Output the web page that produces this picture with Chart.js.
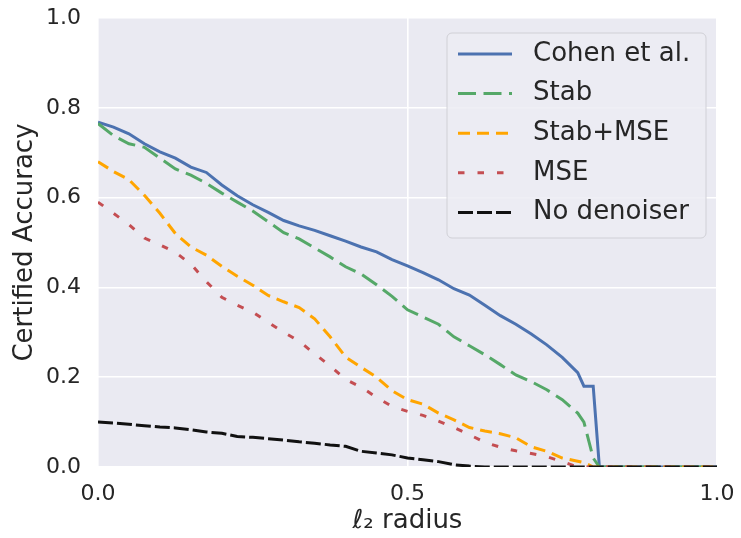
<!DOCTYPE html>
<html>
<head>
<meta charset="utf-8">
<title>Certified accuracy vs l2 radius</title>
<script src="https://cdn.jsdelivr.net/npm/chart.js@4.4.1/dist/chart.umd.min.js"></script>
<style>
    html, body { margin: 0; padding: 0; background: #ffffff; }
    #wrap { width: 741px; height: 538px; }
</style>
</head>
<body>
<div id="wrap"><canvas id="accChart" width="741" height="538"></canvas></div>
<script>
const radii = [
    0, 0.025, 0.05, 0.075, 0.1, 0.125, 0.15, 0.175, 0.2, 0.225,
    0.25, 0.275, 0.3, 0.325, 0.35, 0.375, 0.4, 0.425, 0.45, 0.475,
    0.5, 0.525, 0.55, 0.575, 0.6, 0.625, 0.65, 0.675, 0.7, 0.725,
    0.75, 0.775, 0.785, 0.8, 0.81, 0.9, 1.0
];

const cohenAcc = [
    0.768, 0.757, 0.742, 0.720, 0.702, 0.688, 0.668, 0.656, 0.628, 0.604,
    0.584, 0.567, 0.549, 0.537, 0.527, 0.515, 0.503, 0.490, 0.479, 0.462,
    0.448, 0.433, 0.417, 0.397, 0.383, 0.360, 0.337, 0.318, 0.296, 0.272,
    0.244, 0.210, 0.180, 0.180, 0, 0, 0
];

const stabAcc = [
    0.765, 0.738, 0.720, 0.712, 0.688, 0.664, 0.650, 0.632, 0.610, 0.590,
    0.570, 0.546, 0.522, 0.508, 0.488, 0.468, 0.446, 0.430, 0.406, 0.380,
    0.350, 0.334, 0.318, 0.290, 0.270, 0.250, 0.228, 0.205, 0.190, 0.172,
    0.150, 0.120, 0.100, 0.020, 0, 0, 0
];

const stabMseAcc = [
    0.680, 0.658, 0.640, 0.605, 0.565, 0.520, 0.490, 0.472, 0.447, 0.425,
    0.405, 0.382, 0.368, 0.355, 0.330, 0.290, 0.245, 0.222, 0.200, 0.170,
    0.150, 0.140, 0.120, 0.105, 0.088, 0.080, 0.074, 0.065, 0.045, 0.035,
    0.020, 0.013, 0.010, 0, 0, 0, 0
];

const mseAcc = [
    0.590, 0.565, 0.540, 0.510, 0.495, 0.478, 0.452, 0.413, 0.378, 0.360,
    0.345, 0.322, 0.300, 0.280, 0.252, 0.225, 0.195, 0.178, 0.155, 0.135,
    0.124, 0.115, 0.102, 0.088, 0.072, 0.055, 0.044, 0.036, 0.030, 0.023,
    0.012, 0, 0, 0, 0, 0, 0
];

const noDenoiserAcc = [
    0.100, 0.098, 0.095, 0.092, 0.089, 0.087, 0.083, 0.078, 0.075, 0.068,
    0.066, 0.063, 0.060, 0.056, 0.053, 0.049, 0.046, 0.035, 0.031, 0.027,
    0.020, 0.016, 0.012, 0.005, 0.002, 0, 0, 0, 0, 0,
    0, 0, 0, 0, 0, 0, 0
];

const xTicks = [0, 0.5, 1.0];
const yTicks = [0, 0.2, 0.4, 0.6, 0.8, 1.0];

const seriesNames = ["Cohen et al.", "Stab", "Stab+MSE", "MSE", "No denoiser"];
const seriesValues = [cohenAcc, stabAcc, stabMseAcc, mseAcc, noDenoiserAcc];
const seriesColors = ["#4c72b0", "#55a868", "#ffa500", "#c44e52", "#111111"];
const seriesDashes = [[], [18, 7.5], [12, 7], [6.5, 13], [15, 4]];

const textColor = "#262626";
const fontFamily = "'DejaVu Sans', sans-serif";

const plotBackground = {
    id: "plotBackground",
    beforeDraw(chart) {
        const { ctx, chartArea } = chart;
        ctx.save();
        ctx.fillStyle = "#eaeaf2";
        ctx.fillRect(chartArea.left, chartArea.top, chartArea.right - chartArea.left, chartArea.bottom - chartArea.top);
        ctx.restore();
    }
};

// legend drawn inside the axes, like matplotlib's upper right
const insideLegend = {
    id: "insideLegend",
    afterDatasetsDraw(chart) {
        const { ctx } = chart;
        const boxX = 447;
        const boxY = 33;
        const boxW = 259;
        const boxH = 205;
        const rowGap = 39.6;

        ctx.save();
        ctx.beginPath();
        ctx.roundRect(boxX, boxY, boxW, boxH, 5);
        ctx.fillStyle = "rgba(236, 236, 243, 0.85)";
        ctx.fill();
        ctx.lineWidth = 1;
        ctx.strokeStyle = "#d0d0d6";
        ctx.stroke();

        chart.data.datasets.forEach((dataset, index) => {
            const rowY = boxY + 21 + index * rowGap;
            ctx.beginPath();
            ctx.setLineDash(dataset.borderDash || []);
            ctx.lineWidth = dataset.borderWidth;
            ctx.strokeStyle = dataset.borderColor;
            ctx.moveTo(458, rowY);
            ctx.lineTo(512, rowY);
            ctx.stroke();

            ctx.setLineDash([]);
            ctx.fillStyle = textColor;
            ctx.font = `26px ${fontFamily}`;
            ctx.textAlign = "left";
            ctx.textBaseline = "middle";
            ctx.fillText(dataset.label, 533, rowY);
        });
        ctx.restore();
    }
};

const datasets = seriesNames.map((name, index) => ({
    label: name,
    data: radii.map((radius, i) => ({ x: radius, y: seriesValues[index][i] })),
    borderColor: seriesColors[index],
    borderWidth: 3,
    borderDash: seriesDashes[index],
    borderCapStyle: "butt",
    pointRadius: 0,
    tension: 0,
    fill: false,
    clip: 0,
    order: seriesNames.length - index
}));

new Chart(document.getElementById("accChart").getContext("2d"), {
    type: "line",
    data: { datasets },
    options: {
        responsive: false,
        animation: false,
        layout: {
            padding: { top: 18, right: 24, bottom: 0, left: 0 }
        },
        plugins: {
            legend: { display: false },
            tooltip: { enabled: false }
        },
        scales: {
            x: {
                type: "linear",
                min: 0,
                max: 1,
                afterFit(scale) {
                    scale.height = 71;
                    scale.paddingLeft = 0;
                    scale.paddingRight = 0;
                },
                afterBuildTicks(scale) {
                    scale.ticks = xTicks.map((value) => ({ value }));
                },
                ticks: {
                    color: textColor,
                    font: { family: fontFamily, size: 22 },
                    padding: 14,
                    maxRotation: 0,
                    callback(value) {
                        return value.toFixed(1);
                    }
                },
                grid: {
                    color: "#ffffff",
                    lineWidth: 1.6,
                    drawTicks: false
                },
                border: { display: false },
                title: {
                    display: true,
                    text: "ℓ₂ radius",
                    color: textColor,
                    font: { family: fontFamily, size: 26 },
                    padding: { top: 0, bottom: 1 }
                }
            },
            y: {
                type: "linear",
                min: 0,
                max: 1,
                afterFit(scale) {
                    scale.width = 98;
                    scale.paddingTop = 0;
                    scale.paddingBottom = 0;
                },
                afterBuildTicks(scale) {
                    scale.ticks = yTicks.map((value) => ({ value }));
                },
                ticks: {
                    color: textColor,
                    font: { family: fontFamily, size: 22 },
                    padding: 17,
                    callback(value) {
                        return value.toFixed(1);
                    }
                },
                grid: {
                    color: "#ffffff",
                    lineWidth: 1.6,
                    drawTicks: false
                },
                border: { display: false },
                title: {
                    display: true,
                    text: "Certified Accuracy",
                    color: textColor,
                    font: { family: fontFamily, size: 26 },
                    padding: { top: 10, bottom: 0 }
                }
            }
        }
    },
    plugins: [plotBackground, insideLegend]
});
</script>
</body>
</html>
